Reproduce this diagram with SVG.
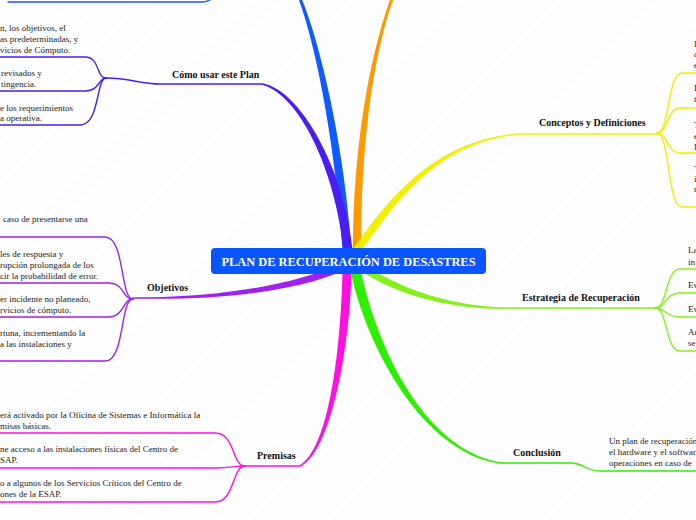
<svg xmlns="http://www.w3.org/2000/svg" width="696" height="520" viewBox="0 0 696 520">
<defs>
<pattern id="stripes" width="7" height="7" patternUnits="userSpaceOnUse" patternTransform="rotate(45)">
<line x1="0" y1="0" x2="0" y2="7" stroke="#f4f4f4" stroke-width="1.2"/>
</pattern>
</defs>
<style>
.t{font-family:"Liberation Serif","Times New Roman",serif;font-size:9px;fill:#222}
.lb{font-family:"Liberation Serif","Times New Roman",serif;font-size:10px;font-weight:bold;fill:#111}
.ln{fill:none;stroke-width:1.4;stroke-linecap:round}
.blue{stroke:#0f5bff}.ind{stroke:#4a1ef2}.vio{stroke:#a020f0}.mag{stroke:#ff10e0}
.grn{stroke:#2df000}.chr{stroke:#86f01a}.yel{stroke:#f0f000}
</style>
<rect width="696" height="520" fill="#ffffff"/>
<rect width="696" height="520" fill="url(#stripes)"/>

<g id="connectors">
<!-- main tapered branches -->
<path fill="#0f5bff" d="M351.5,250 C344.5,150 322.3,49.1 301.4,-2 L298.6,-1 C317.7,50.9 335.5,150.3 342.5,250 Z"/>
<path fill="#ff9900" d="M361,250 C361,150 371.4,60.5 393.4,-1 L390.6,-2 C368.6,59.5 353,150 353,250 Z"/>
<path fill="#4a1ef2" d="M352.5,249.6 C344.5,169.6 300.5,89.6 262.2,83.3 L261.8,84.7 C299.5,94.4 335.5,170.4 343.5,250.4 Z"/>
<path fill="#a020f0" d="M338.6,264.8 C293.6,284.8 220,296.5 150,297.3 L150,298.8 C220,299.5 296.4,291.2 341.4,271.2 Z"/>
<path fill="#ff10e0" d="M342.5,271.9 C340.5,349.9 329.1,448.2 299.6,465.3 L300.4,466.7 C330.9,451.8 349.5,350.1 351.5,272.1 Z"/>
<path fill="#2df000" d="M351.1,273 C365.1,341 419.7,452 499.9,463.7 L500.1,462.3 C420.3,448 374.9,339 360.9,271 Z"/>
<path fill="#86f01a" d="M364.1,272.9 C398.1,294.9 450,308.5 500,308.8 L500,307.3 C450,305.5 401.9,289.1 367.9,267.1 Z"/>
<path fill="#f0f000" d="M359.3,254.3 C398.3,197.3 440.1,141.5 520.1,134.7 L519.9,133.3 C439.9,138.5 391.7,192.7 352.7,249.7 Z"/>

<!-- top blue sub line -->
<path class="ln blue" d="M8,2 H203 C207,2 210,0 213,-2"/>

<!-- Como usar este Plan -->
<path class="ln ind" d="M262,84 H160 C140,84 130,78 106,78"/>
<path class="ln ind" d="M106,78 C96,78 100,57 85,57 H0"/>
<path class="ln ind" d="M106,78 C98,78 100,91 85,91 H0"/>
<path class="ln ind" d="M106,78 C96,78 100,125 80,125 H0"/>

<!-- Objetivos -->
<path class="ln vio" d="M150,298 H133"/>
<path class="ln vio" d="M133,299 C120,299 125,237 105,237 H0"/>
<path class="ln vio" d="M133,299 C122,299 125,283 108,283 H0"/>
<path class="ln vio" d="M133,299 C122,299 125,317 108,317 H0"/>
<path class="ln vio" d="M133,299 C120,299 125,361 105,361 H0"/>

<!-- Premisas -->
<path class="ln mag" d="M300,466 H245"/>
<path class="ln mag" d="M245,466 C232,466 235,433 215,433 H0"/>
<path class="ln mag" d="M245,466 C235,466 230,468 215,468 H0"/>
<path class="ln mag" d="M245,466 C232,466 235,502 215,502 H0"/>

<!-- Conclusion -->
<path class="ln grn" d="M500,463 H570 C585,463 585,471 600,471 H696"/>

<!-- Estrategia -->
<path class="ln chr" d="M500,308 H655"/>
<path class="ln chr" d="M655,308 C668,308 665,269 680,269 H696"/>
<path class="ln chr" d="M655,308 C666,308 665,293 680,293 H696"/>
<path class="ln chr" d="M655,308 C666,308 665,317 680,317 H696"/>
<path class="ln chr" d="M655,308 C668,308 665,351 680,351 H696"/>

<!-- Conceptos -->
<path class="ln yel" d="M520,134 H657"/>
<path class="ln yel" d="M657,133 C670,133 667,73 682,73 H696"/>
<path class="ln yel" d="M657,133 C668,133 667,108 680,108 H696"/>
<path class="ln yel" d="M657,133 C668,133 667,153 680,153 H696"/>
<path class="ln yel" d="M657,133 C670,133 667,207 682,207 H696"/>
</g>

<g id="center">
<rect x="211" y="248" width="275" height="26" rx="4" fill="#0a55ff"/>
<text x="348.5" y="266" text-anchor="middle" style="font-family:'Liberation Serif','Times New Roman',serif;font-size:12.4px;font-weight:bold;fill:#ffffff">PLAN DE RECUPERACIÓN DE DESASTRES</text>
</g>

<g id="como-usar">
<text class="lb" x="172" y="78">Cómo usar este Plan</text>
<text class="t" x="0" y="31">n, los objetivos, el</text>
<text class="t" x="0" y="42">as predeterminadas, y</text>
<text class="t" x="0" y="53">vicios de Cómputo.</text>
<text class="t" x="1" y="76">revisados y</text>
<text class="t" x="1" y="87">tingencia.</text>
<text class="t" x="0" y="111">e los requerimientos</text>
<text class="t" x="0" y="121">a operativa.</text>
</g>

<g id="objetivos">
<text class="lb" x="147" y="291">Objetivos</text>
<text class="t" x="3" y="222">caso de presentarse una</text>
<text class="t" x="0" y="257">les de respuesta y</text>
<text class="t" x="0" y="268">rupción prolongada de los</text>
<text class="t" x="0" y="279">cir la probabilidad de error.</text>
<text class="t" x="0" y="302">er incidente no planeado,</text>
<text class="t" x="0" y="313">rvicios de cómputo.</text>
<text class="t" x="0" y="336">rtuna, incrementando la</text>
<text class="t" x="0" y="347">a las instalaciones y</text>
</g>

<g id="premisas">
<text class="lb" x="257" y="459">Premisas</text>
<text class="t" x="0" y="418">erá activado por la Oficina de Sistemas e Informática la</text>
<text class="t" x="0" y="429">misas básicas.</text>
<text class="t" x="0" y="452">ne acceso a las instalaciones físicas del Centro de</text>
<text class="t" x="0" y="463">SAP.</text>
<text class="t" x="0" y="486">o a algunos de los Servicios Críticos del Centro de</text>
<text class="t" x="0" y="497">ones de la ESAP.</text>
</g>

<g id="conclusion">
<text class="lb" x="513" y="456">Conclusión</text>
<text class="t" x="609" y="444">Un plan de recuperación</text>
<text class="t" x="609" y="455">el hardware y el softwar</text>
<text class="t" x="609" y="466">operaciones en caso de </text>
</g>

<g id="estrategia">
<text class="lb" x="522" y="301">Estrategia de Recuperación</text>
<text class="t" x="688" y="253">La</text>
<text class="t" x="688" y="265">in</text>
<text class="t" x="688" y="288">Ev</text>
<text class="t" x="688" y="312">Ev</text>
<text class="t" x="688" y="335">Ar</text>
<text class="t" x="688" y="346">se</text>
</g>

<g id="conceptos">
<text class="lb" x="539" y="126">Conceptos y Definiciones</text>
<text class="t" x="694" y="47">I</text>
<text class="t" x="694" y="57">a</text>
<text class="t" x="694" y="68">e</text>
<text class="t" x="694" y="91">I</text>
<text class="t" x="694" y="102">t</text>
<text class="t" x="694" y="128">T</text>
<text class="t" x="694" y="139">e</text>
<text class="t" x="694" y="150">I</text>
<text class="t" x="694" y="172">T</text>
<text class="t" x="694" y="182">i</text>
<text class="t" x="694" y="192">r</text>
</g>
</svg>
